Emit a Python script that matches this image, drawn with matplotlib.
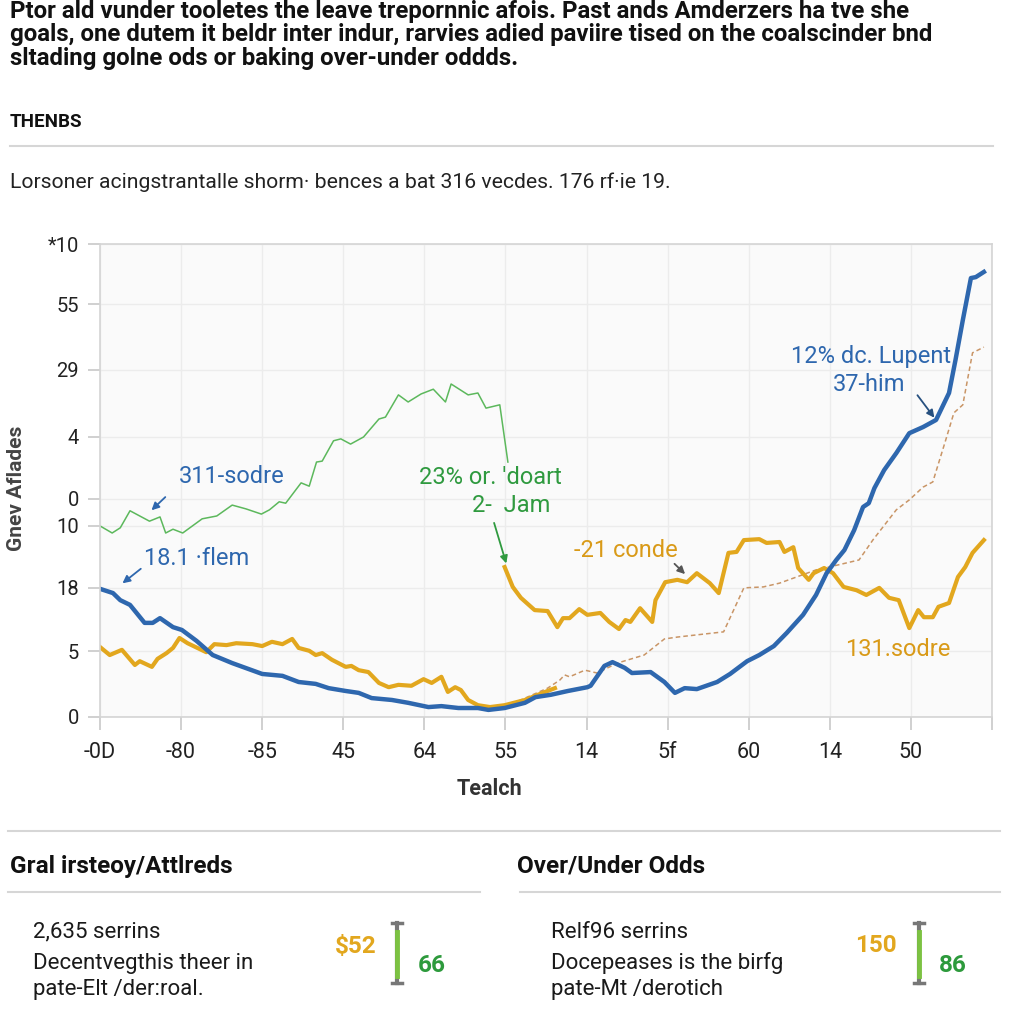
import matplotlib.pyplot as plt
from matplotlib.lines import Line2D

plt.rcParams['font.family'] = ['Roboto', 'DejaVu Sans']

# ---- data ----
x_tick_labels = ["-0D", "-80", "-85", "45", "64", "55", "14", "5f", "60", "14", "50", ""]
y_tick_pos = [0, 13.95, 27.3, 40.4, 46.1, 59.2, 73.4, 87.3, 100]
y_tick_labels = ["0", "5", "18", "10", "0", "4", "29", "55", "*10"]

green_x = [0, 0.15, 0.25, 0.37, 0.49, 0.61, 0.74, 0.81, 0.90, 1.02, 1.26, 1.44, 1.63, 1.80,
           1.99, 2.09, 2.21, 2.29, 2.48, 2.58, 2.67, 2.74, 2.88, 2.97, 3.09, 3.25, 3.44, 3.52,
           3.68, 3.80, 3.96, 4.11, 4.26, 4.33, 4.54, 4.66, 4.76, 4.93, 5.03]
green_y = [40.4, 38.9, 40.0, 43.6, 42.5, 41.4, 42.3, 38.9, 39.7, 38.9, 41.9, 42.5, 44.8, 44.0,
           42.9, 43.8, 45.5, 45.2, 49.5, 48.8, 53.9, 54.1, 58.4, 58.8, 57.7, 59.2, 63.0, 63.4,
           68.1, 66.6, 68.3, 69.3, 66.6, 70.4, 68.1, 68.5, 65.3, 66.0, 53.9]

blue_x = [0, 0.16, 0.25, 0.37, 0.55, 0.65, 0.74, 0.90, 1.01, 1.19, 1.39, 1.63, 2.0, 2.25,
          2.45, 2.66, 2.82, 3.03, 3.19, 3.35, 3.60, 3.80, 4.05, 4.21, 4.42, 4.66, 4.79, 4.99,
          5.24, 5.37, 5.56, 5.77, 6.01, 6.05, 6.22, 6.32, 6.47, 6.56, 6.79, 6.96, 7.09, 7.21,
          7.36, 7.61, 7.77, 7.98, 8.13, 8.31, 8.47, 8.67, 8.83, 8.96, 9.08, 9.18, 9.30, 9.41,
          9.48, 9.55, 9.67, 9.82, 9.98, 10.15, 10.31, 10.47, 10.55, 10.64, 10.74, 10.80, 10.90]
blue_y = [27.1, 26.2, 24.7, 23.7, 19.9, 19.9, 20.9, 19.0, 18.4, 16.1, 13.1, 11.4, 9.1, 8.7,
          7.4, 7.0, 6.1, 5.5, 5.1, 4.0, 3.6, 3.0, 2.1, 2.3, 1.9, 1.9, 1.5, 1.9,
          3.0, 4.2, 4.7, 5.5, 6.3, 6.6, 10.8, 11.6, 10.4, 9.3, 9.5, 7.4, 5.1, 6.1,
          5.9, 7.4, 9.1, 11.8, 13.1, 15.0, 17.8, 21.6, 25.8, 30.4, 33.2, 35.3, 39.5, 44.4,
          45.2, 48.4, 52.2, 55.8, 60.0, 61.3, 62.8, 68.5, 75.5, 83.9, 92.8, 93.0, 94.1]

orange_low_x = [0, 0.12, 0.27, 0.43, 0.49, 0.64, 0.71, 0.82, 0.90, 0.98, 1.08, 1.31, 1.41,
                1.56, 1.68, 1.88, 2.0, 2.12, 2.25, 2.37, 2.45, 2.58, 2.66, 2.74, 2.86, 3.03,
                3.10, 3.19, 3.31, 3.44, 3.56, 3.68, 3.84, 3.99, 4.09, 4.21, 4.29, 4.38, 4.45,
                4.54, 4.66, 4.81, 4.99, 5.24, 5.40, 5.61]
orange_low_y = [14.8, 13.1, 14.2, 11.0, 11.8, 10.6, 12.3, 13.5, 14.6, 16.7, 15.6, 13.7, 15.4,
                15.2, 15.6, 15.4, 15.0, 15.9, 15.4, 16.5, 14.6, 14.0, 13.1, 13.5, 12.1, 10.6,
                10.8, 9.9, 9.5, 7.2, 6.3, 6.8, 6.6, 8.0, 7.2, 8.5, 5.3, 6.3, 5.7,
                3.6, 2.5, 2.1, 2.5, 3.6, 4.7, 6.1]

orange_high_x = [4.99, 5.09, 5.19, 5.36, 5.52, 5.64, 5.71, 5.79, 5.91, 6.01, 6.17, 6.28, 6.40,
                 6.48, 6.54, 6.66, 6.81, 6.85, 6.97, 7.12, 7.24, 7.36, 7.52, 7.63, 7.75, 7.85,
                 7.94, 8.13, 8.22, 8.38, 8.44, 8.55, 8.61, 8.74, 8.80, 8.93, 9.04, 9.17, 9.33,
                 9.45, 9.61, 9.73, 9.85, 9.98, 10.09, 10.16, 10.27, 10.34, 10.47, 10.58, 10.67,
                 10.76, 10.90]
orange_high_y = [31.7, 27.5, 25.2, 22.6, 22.4, 19.0, 20.9, 20.9, 22.8, 21.6, 22.0, 20.1, 18.6,
                 20.5, 20.1, 23.0, 20.1, 24.7, 28.5, 29.0, 28.5, 30.4, 28.3, 26.2, 34.7, 34.9,
                 37.4, 37.6, 36.8, 37.0, 34.9, 35.9, 31.5, 29.0, 30.4, 31.5, 30.4, 27.5, 26.8,
                 25.8, 27.3, 25.2, 24.7, 18.8, 22.6, 21.1, 21.1, 23.3, 24.1, 29.6, 31.7,
                 34.7, 37.4]

dash_x = [4.99, 5.52, 5.67, 5.73, 5.79, 5.98, 6.13, 6.38, 6.71, 6.96, 7.12, 7.69, 7.94, 8.18,
          8.38, 8.59, 8.83, 8.99, 9.36, 9.53, 9.82, 9.98, 10.15, 10.27, 10.43, 10.53, 10.64,
          10.76, 10.90]
dash_y = [2.1, 6.1, 7.8, 8.9, 8.5, 9.9, 9.3, 11.4, 13.1, 16.5, 16.9, 18.0, 27.3, 27.5,
          28.3, 29.6, 31.1, 31.7, 33.2, 37.4, 43.8, 45.9, 48.6, 49.7, 58.6, 64.3, 66.0,
          77.0, 78.2]

BLUE = "#2e67ae"
ORANGE = "#e2a71e"
GREEN = "#5cb85c"
GREEN_TXT = "#2f9a3f"
DASH = "#c99566"

fig = plt.figure(figsize=(10.24, 10.24), dpi=100)


def ftext(x, y, s, **kw):
    fig.text(x / 1024, 1 - y / 1024, s, **kw)


def hline(y, x0, x1):
    fig.add_artist(Line2D([x0 / 1024, x1 / 1024], [1 - y / 1024] * 2, color="#d6d6d6", lw=1.5))


# header
ftext(10, 35, "Ptor ald vunder tooletes the leave trepornnic afois. Past ands Amderzers ha tve she\n"
      "goals, one dutem it beldr inter indur, rarvies adied paviire tised on the coalscinder bnd\n"
      "sltading golne ods or baking over-under oddds.",
      fontsize=17.3, fontweight="bold", color="#111111", va="center", linespacing=1.02)
ftext(10, 122, "THENBS", fontsize=13.5, fontweight="bold", color="#111111", va="center")
hline(146, 10, 993)
ftext(10, 182, "Lorsoner acingstrantalle shorm· bences a bat 316 vecdes. 176 rf·ie 19.",
      fontsize=15.2, color="#222222", va="center")

# chart
ax = fig.add_axes([100 / 1024, 1 - 717 / 1024, 892 / 1024, 473 / 1024])
ax.set_facecolor("#fafafa")
ax.plot(green_x, green_y, color=GREEN, lw=1.1)
ax.plot(dash_x, dash_y, color=DASH, lw=1.1, ls=(0, (3, 2)))
ax.plot(orange_low_x, orange_low_y, color=ORANGE, lw=3)
ax.plot(orange_high_x, orange_high_y, color=ORANGE, lw=3)
ax.plot(blue_x, blue_y, color=BLUE, lw=3.2)

ax.set_xlim(0, 10.95)
ax.set_ylim(0, 100)
ax.set_xticks(range(len(x_tick_labels)))
ax.set_xticklabels(x_tick_labels, fontsize=15.5, color="#222222")
ax.set_yticks(y_tick_pos)
ax.set_yticklabels(y_tick_labels, fontsize=14.5, color="#222222")
ax.tick_params(axis="both", color="#c8c8c8", length=9, width=1.2)
ax.tick_params(axis="x", pad=9)
ax.tick_params(axis="y", pad=6)
ax.grid(True, color="#ececec", lw=1)
for s in ax.spines.values():
    s.set_color("#d4d4d4")
    s.set_linewidth(1.2)
ax.set_xlabel("Tealch", fontsize=15.5, fontweight="bold", color="#333333")
ax.xaxis.set_label_coords(0.437, -0.13)
ax.set_ylabel("Gnev Aflades", fontsize=15, fontweight="bold", color="#444444")
ax.yaxis.set_label_coords(-0.083, 0.484)


def note(xt, yt, s, c):
    ax.text(xt, yt, s, color=c, fontsize=17, ha="center", va="center")


def arrow(x0, y0, x1, y1, c):
    ax.annotate("", xy=(x1, y1), xytext=(x0, y0),
                arrowprops=dict(arrowstyle="-|>", color=c, lw=1.3, mutation_scale=11))


note(1.62, 50.9, "311-sodre", BLUE)
arrow(0.83, 46.9, 0.61, 43.3, BLUE)
note(1.19, 33.6, "18.1 ·flem", BLUE)
arrow(0.53, 31.7, 0.25, 27.9, BLUE)
note(4.81, 50.7, "23% or. 'doart", GREEN_TXT)
note(5.07, 44.8, "2-  Jam", GREEN_TXT)
arrow(4.85, 41.6, 5.02, 31.9, GREEN_TXT)
note(6.48, 35.3, "-21 conde", "#d99a18")
arrow(7.06, 32.8, 7.24, 29.8, "#555555")
note(9.51, 76.3, "12% dc. Lupent", BLUE)
note(9.48, 70.2, "37-him", BLUE)
arrow(10.06, 68.5, 10.31, 62.8, "#27507f")
note(9.84, 14.2, "131.sodre", "#d99a18")

# bottom cards
hline(831, 8, 1000)
ftext(10, 866, "Gral irsteoy/Attlreds", fontsize=17.5, fontweight="bold", color="#111111", va="center")
ftext(517, 866, "Over/Under Odds", fontsize=17.5, fontweight="bold", color="#111111", va="center")
hline(892, 8, 480)
hline(892, 520, 1000)

cards = [
    (33, ["2,635 serrins", "Decentvegthis theer in", "pate-Elt /der:roal."], 356, "$52", 397, "66", 432),
    (551, ["Relf96 serrins", "Docepeases is the birfg", "pate-Mt /derotich"], 876, "150", 919, "86", 953),
]
for tx, lines, ox, otxt, bx, gtxt, gx in cards:
    for ly, s in zip([932, 963, 990], lines):
        ftext(tx, ly, s, fontsize=16, color="#1a1a1a", va="center")
    ftext(ox, 946, otxt, fontsize=17.5, fontweight="bold", color=ORANGE, va="center", ha="center")
    ftext(gx, 965, gtxt, fontsize=17.5, fontweight="bold", color="#2d9a3c", va="center", ha="center")
    fig.add_artist(Line2D([bx / 1024] * 2, [1 - 923 / 1024, 1 - 983 / 1024], color="#777777", lw=3))
    fig.add_artist(Line2D([bx / 1024] * 2, [1 - 932 / 1024, 1 - 976 / 1024], color="#7cc242", lw=3.5))
    for cy in (923, 983):
        fig.add_artist(Line2D([(bx - 5) / 1024, (bx + 5) / 1024], [1 - cy / 1024] * 2,
                              color="#777777", lw=2.5))

fig.savefig("out.png", dpi=100, facecolor="white")
